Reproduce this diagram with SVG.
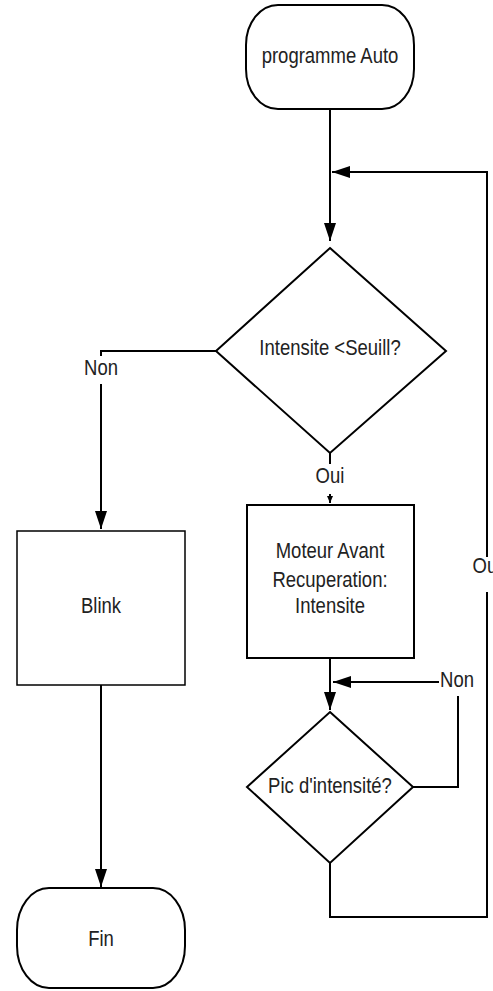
<svg xmlns="http://www.w3.org/2000/svg" width="493" height="991" viewBox="0 0 493 991">
<style>
.shape{fill:#fff;stroke:#000;stroke-width:2}
.conn{fill:none;stroke:#000;stroke-width:2}
.t{font-family:"Liberation Sans",Arial,sans-serif;font-size:18.5px;fill:#222;text-anchor:middle}
.lbg{fill:#fff;stroke:none}
</style>
<defs>
<marker id="arr" markerUnits="userSpaceOnUse" markerWidth="18" markerHeight="12" refX="18" refY="6" orient="auto" viewBox="0 0 18 12">
<path d="M0,0 L18,6 L0,12 Z" fill="#000"/>
</marker>
<marker id="arrs" markerUnits="userSpaceOnUse" markerWidth="7" markerHeight="6" refX="7" refY="3" orient="auto" viewBox="0 0 7 6">
<path d="M0,0 L7,3 L0,6 Z" fill="#000"/>
</marker>
</defs>
<rect width="493" height="991" fill="#fff"/>
<g id="connectors">
<path class="conn" d="M330,109 L330,241" marker-end="url(#arr)"/>
<path class="conn" d="M330,863 L330,917 L487,917 L487,172 L332,172" marker-end="url(#arr)"/>
<path class="conn" d="M216,351 L101,351 L101,529" marker-end="url(#arr)"/>
<path class="conn" d="M330,453 L330,503" marker-end="url(#arrs)"/>
<path class="conn" d="M330,658 L330,710" marker-end="url(#arr)"/>
<path class="conn" d="M413,787 L458,787 L458,682 L333,682" marker-end="url(#arr)"/>
<path class="conn" d="M101,685 L101,887" marker-end="url(#arr)"/>
<rect class="lbg" x="84" y="356" width="34" height="28"/>
<text class="t" transform="translate(101,375) scale(1,1.15)">Non</text>
<rect class="lbg" x="314" y="464" width="32" height="30"/>
<text class="t" transform="translate(330,483) scale(1,1.15)">Oui</text>
<rect class="lbg" x="472" y="557" width="30" height="35"/>
<text class="t" transform="translate(487,573) scale(1,1.15)">Oui</text>
<rect class="lbg" x="439" y="669" width="38" height="27"/>
<text class="t" transform="translate(457,687) scale(1,1.15)">Non</text>
</g>
<g id="start">
<rect class="shape" x="246" y="5" width="168" height="104" rx="32" ry="40"/>
<text class="t" transform="translate(330,63) scale(1,1.15)">programme Auto</text>
</g>
<g id="decision1">
<polygon class="shape" points="330,248 446,351 330,453 216,351"/>
<text class="t" transform="translate(330,355) scale(1,1.15)">Intensite &lt;Seuill?</text>
</g>
<g id="moteur">
<rect class="shape" x="247" y="505" width="167" height="153"/>
<text class="t" transform="translate(330,558) scale(1,1.15)">Moteur Avant</text>
<text class="t" transform="translate(330,587) scale(1,1.15)">Recuperation:</text>
<text class="t" transform="translate(330,613) scale(1,1.15)">Intensite</text>
</g>
<g id="decision2">
<polygon class="shape" points="330,712 413,787 330,863 247,787"/>
<text class="t" transform="translate(330,793) scale(1,1.15)">Pic d'intensité?</text>
</g>
<g id="blink">
<rect class="shape" x="17" y="531" width="168" height="154" style="stroke-width:1.5"/>
<text class="t" transform="translate(101,613) scale(1,1.15)">Blink</text>
</g>
<g id="fin">
<rect class="shape" x="17" y="888" width="168" height="100" rx="32" ry="42"/>
<text class="t" transform="translate(101,946) scale(1,1.15)">Fin</text>
</g>
</svg>
